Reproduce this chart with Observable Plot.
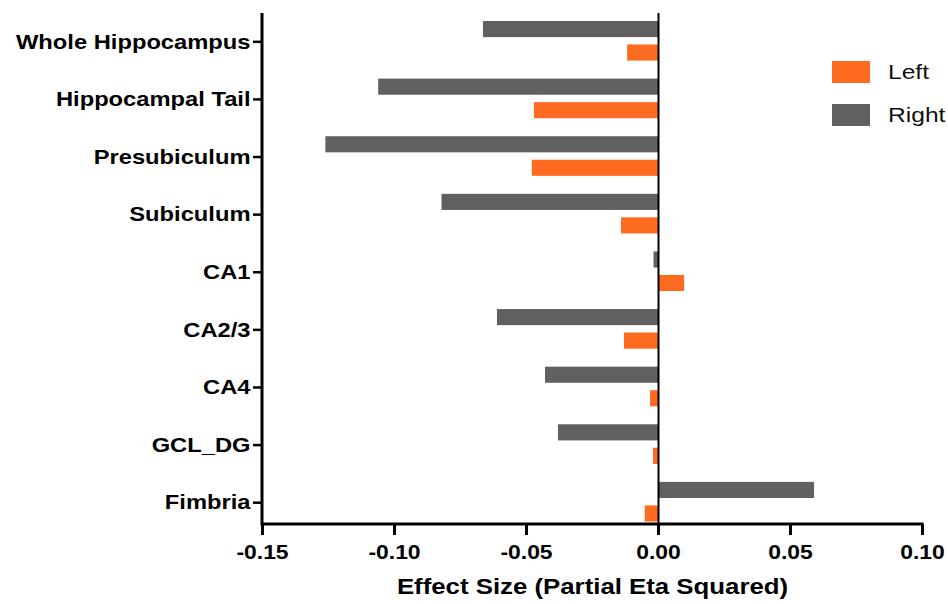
<!DOCTYPE html>
<html>
<head>
<meta charset="utf-8">
<script src="https://cdn.jsdelivr.net/npm/d3@7"></script>
<script src="https://cdn.jsdelivr.net/npm/@observablehq/plot@0.6"></script>
<style>
  html, body { margin: 0; padding: 0; background: #fff; }
  #wrap { position: relative; width: 948px; height: 604px; font-family: "Liberation Sans", Arial, sans-serif; }
  .leg { position: absolute; left: 832px; width: 38px; height: 22px; }
  .legt { position: absolute; left: 888px; font-size: 20.5px; line-height: 22px; color: #111; transform: scaleX(1.2); transform-origin: 0 50%; }
</style>
</head>
<body>
<div id="wrap"></div>
<script>
const categories = ["Whole Hippocampus", "Hippocampal Tail", "Presubiculum", "Subiculum", "CA1", "CA2/3", "CA4", "GCL_DG", "Fimbria"];
const leftValues  = [-0.0117, -0.047, -0.0478, -0.014, 0.0099, -0.0129, -0.003, -0.0019, -0.005];
const rightValues = [-0.0663, -0.106, -0.126, -0.082, -0.0017, -0.061, -0.0428, -0.0379, 0.0591];
const xTicks = [-0.15, -0.10, -0.05, 0.00, 0.05, 0.10];
const seriesNames = ["Left", "Right"];
const seriesColors = ["#FF6A21", "#606060"];

const leftData = categories.map((c, i) => ({category: c, value: leftValues[i]}));
const rightData = categories.map((c, i) => ({category: c, value: rightValues[i]}));
const fmt = d => d.toFixed(2);

const axisLines = (index, scales, values, dimensions) => {
  const {width, height, marginLeft, marginRight, marginBottom, marginTop} = dimensions;
  const g = d3.create("svg:g");
  const yb = height - marginBottom;
  g.append("line").attr("x1", marginLeft).attr("x2", width - marginRight + 1.5)
    .attr("y1", yb).attr("y2", yb).attr("stroke", "#000").attr("stroke-width", 3);
  g.append("line").attr("x1", marginLeft).attr("x2", marginLeft)
    .attr("y1", marginTop).attr("y2", yb + 1.5).attr("stroke", "#000").attr("stroke-width", 3);
  return g.node();
};

const chart = Plot.plot({
  width: 948,
  height: 604,
  marginLeft: 262,
  marginRight: 26,
  marginTop: 13,
  marginBottom: 80,
  style: {fontFamily: "'Liberation Sans', Arial, sans-serif", background: "#fff", color: "#000"},
  x: {domain: [-0.15, 0.10], ticks: xTicks, tickFormat: fmt},
  y: {type: "band", domain: categories, range: [12.5, 531], padding: 0, round: false},
  marks: [
    Plot.barX(rightData, {y: "category", x: "value", fill: seriesColors[1], insetTop: 8.5, insetBottom: 33}),
    Plot.barX(leftData, {y: "category", x: "value", fill: seriesColors[0], insetTop: 32, insetBottom: 9.5}),
    Plot.ruleX([0], {stroke: "#000", strokeWidth: 2}),
    Plot.axisY({tickSize: 9, tickPadding: 3, label: null, fontSize: 21, fontWeight: "bold", strokeWidth: 2.5, className: "yax"}),
    Plot.axisX({ticks: xTicks, tickFormat: fmt, tickSize: 11, tickPadding: 9, fontSize: 21, fontWeight: "bold", strokeWidth: 3, label: null, className: "xax"}),
    Plot.text(["Effect Size (Partial Eta Squared)"], {frameAnchor: "bottom", lineAnchor: "middle", dy: 63, fontSize: 21.5, fontWeight: "bold", fill: "#000", className: "xtitle"}),
    axisLines
  ]
});

function stretch(sel, s) {
  d3.select(chart).selectAll(sel).each(function() {
    const t = d3.select(this);
    const tr = t.attr("transform");
    if (tr && tr.includes("translate")) {
      t.attr("transform", tr + ` scale(${s},1)`);
    } else {
      const x = +t.attr("x") || 0, y = +t.attr("y") || 0;
      t.attr("x", null).attr("y", null).attr("transform", `translate(${x},${y}) ${tr || ""} scale(${s},1)`);
    }
  });
}
stretch(".yax text", 1.13);
stretch(".xax text", 1.09);
stretch(".xtitle text", 1.2);

chart.style.position = "absolute";
chart.style.left = "0px";
chart.style.top = "0px";
const wrap = document.getElementById("wrap");
wrap.appendChild(chart);

const legTops = [61, 104];
seriesNames.forEach((name, i) => {
  const sw = document.createElement("div");
  sw.className = "leg";
  sw.style.top = legTops[i] + "px";
  sw.style.background = seriesColors[i];
  wrap.appendChild(sw);
  const t = document.createElement("div");
  t.className = "legt";
  t.style.top = (legTops[i]) + "px";
  t.textContent = name;
  wrap.appendChild(t);
});
</script>
</body>
</html>
